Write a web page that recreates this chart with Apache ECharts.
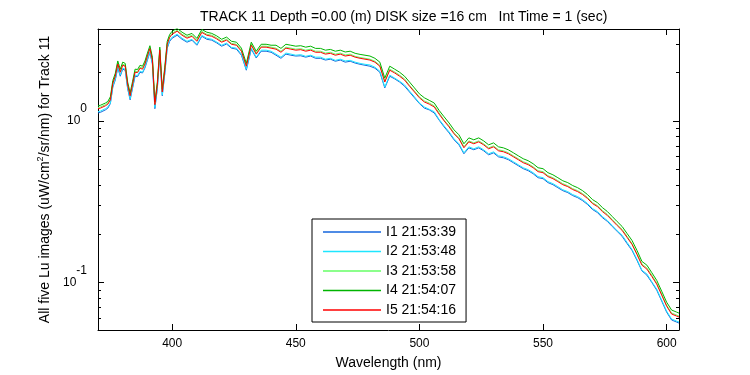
<!DOCTYPE html>
<html>
<head>
<meta charset="utf-8">
<script src="https://cdn.jsdelivr.net/npm/echarts@6/dist/echarts.min.js"></script>
<style>
html, body { margin: 0; padding: 0; background: #fff; }
#main { width: 750px; height: 375px; }
</style>
</head>
<body>
<div id="main"></div>
<script>
// wavelength (nm)
var wavelength = [370,371,372,373,374,375,376,377,378,379,380,381,382,383,384,385,386,387,388,389,390,391,392,393,394,395,396,397,398,399,400,
    402,404,406,408,410,412,414,416,418,420,422,424,426,428,430,432,434,436,438,440,
    442,444,446,448,450,452,454,456,458,460,462,464,466,468,470,472,474,476,478,480,
    482,484,486,488,490,492,494,496,498,500,502,504,506,508,510,512,514,516,518,520,
    522,524,526,528,530,532,534,536,538,540,542,544,546,548,550,552,554,556,558,560,
    562,564,566,568,570,572,574,576,578,580,582,584,586,588,590,592,594,596,598,600,
    602,604,605];

// Lu for the five images
var lu1 = [1.12,1.13,1.15,1.17,1.20,1.28,1.62,1.79,2.13,1.89,2.09,2.06,1.58,1.35,1.60,1.89,1.88,2.00,1.98,2.13,2.38,2.65,2.25,1.19,1.58,2.59,1.43,1.95,2.82,3.11,3.25,
    3.39,3.20,3.07,3.16,2.94,3.34,3.20,3.16,3.04,2.90,2.99,2.82,2.78,2.55,2.06,2.78,2.45,2.70,2.70,2.66,
    2.55,2.44,2.59,2.55,2.52,2.53,2.48,2.52,2.44,2.44,2.38,2.41,2.34,2.38,2.31,2.34,2.28,2.24,2.21,2.18,
    2.12,2.00,1.60,1.89,1.82,1.74,1.64,1.51,1.39,1.28,1.20,1.17,1.12,1.01,0.918,0.843,0.764,0.711,0.626,0.681,
    0.663,0.681,0.653,0.617,0.634,0.599,0.591,0.575,0.551,0.528,0.506,0.492,0.471,0.445,0.439,0.415,0.403,0.386,0.370,0.360,
    0.345,0.335,0.321,0.304,0.283,0.271,0.252,0.239,0.222,0.207,0.193,0.174,0.158,0.137,0.118,0.111,0.100,0.0896,0.0767,0.0655,
    0.0586,0.0569,0.0561];
var lu2 = [1.14,1.15,1.17,1.19,1.22,1.29,1.64,1.81,2.16,1.92,2.12,2.09,1.60,1.37,1.62,1.92,1.91,2.03,2.00,2.16,2.41,2.68,2.28,1.21,1.60,2.62,1.45,1.97,2.85,3.15,3.30,
    3.44,3.25,3.11,3.20,2.98,3.38,3.25,3.20,3.08,2.94,3.03,2.85,2.82,2.59,2.09,2.82,2.48,2.74,2.74,2.70,
    2.59,2.48,2.63,2.59,2.55,2.57,2.51,2.55,2.48,2.48,2.41,2.44,2.37,2.41,2.35,2.37,2.31,2.27,2.24,2.22,
    2.15,2.03,1.62,1.92,1.84,1.76,1.67,1.53,1.41,1.29,1.22,1.18,1.14,1.02,0.931,0.855,0.775,0.722,0.635,0.691,
    0.672,0.691,0.662,0.626,0.643,0.608,0.600,0.583,0.559,0.535,0.513,0.499,0.478,0.452,0.445,0.421,0.409,0.392,0.375,0.365,
    0.350,0.340,0.326,0.308,0.287,0.275,0.256,0.242,0.225,0.209,0.196,0.177,0.160,0.139,0.119,0.113,0.101,0.0909,0.0777,0.0665,
    0.0594,0.0577,0.0569];
var lu3 = [1.21,1.22,1.24,1.26,1.29,1.37,1.73,1.92,2.28,2.03,2.24,2.21,1.69,1.45,1.71,2.03,2.02,2.15,2.12,2.28,2.56,2.84,2.41,1.28,1.69,2.78,1.53,2.09,3.02,3.34,3.49,
    3.64,3.44,3.30,3.39,3.15,3.58,3.44,3.39,3.27,3.11,3.20,3.02,2.98,2.74,2.21,2.98,2.63,2.90,2.90,2.86,
    2.82,2.70,2.86,2.82,2.78,2.80,2.74,2.78,2.70,2.70,2.63,2.66,2.59,2.63,2.56,2.59,2.51,2.47,2.44,2.41,
    2.34,2.21,1.76,2.09,2.01,1.92,1.82,1.66,1.53,1.41,1.33,1.29,1.24,1.12,1.01,0.931,0.844,0.786,0.692,0.752,
    0.732,0.752,0.721,0.681,0.701,0.662,0.653,0.635,0.608,0.583,0.559,0.544,0.520,0.492,0.485,0.458,0.445,0.427,0.409,0.397,
    0.381,0.370,0.355,0.336,0.312,0.299,0.279,0.264,0.245,0.228,0.213,0.193,0.174,0.151,0.130,0.123,0.111,0.0990,0.0847,0.0724,
    0.0647,0.0629,0.0620];
var lu4 = [1.24,1.25,1.27,1.29,1.32,1.41,1.78,1.97,2.35,2.09,2.31,2.27,1.74,1.49,1.76,2.09,2.08,2.21,2.18,2.35,2.63,2.92,2.48,1.31,1.74,2.86,1.57,2.15,3.11,3.43,3.59,
    3.74,3.54,3.39,3.48,3.24,3.68,3.54,3.48,3.36,3.20,3.30,3.11,3.07,2.82,2.27,3.07,2.70,2.98,2.98,2.94,
    2.94,2.81,2.98,2.94,2.90,2.92,2.86,2.90,2.81,2.81,2.74,2.77,2.70,2.74,2.67,2.70,2.62,2.58,2.55,2.52,
    2.44,2.31,1.84,2.18,2.09,2.00,1.89,1.74,1.60,1.47,1.39,1.34,1.29,1.16,1.06,0.971,0.880,0.820,0.722,0.785,
    0.764,0.785,0.752,0.711,0.731,0.691,0.681,0.662,0.635,0.608,0.583,0.567,0.543,0.513,0.506,0.478,0.464,0.445,0.426,0.415,
    0.398,0.386,0.370,0.350,0.326,0.312,0.291,0.275,0.256,0.238,0.222,0.201,0.182,0.158,0.135,0.128,0.115,0.103,0.0883,0.0755,
    0.0675,0.0656,0.0646];
var lu5 = [1.19,1.20,1.22,1.24,1.27,1.35,1.71,1.89,2.25,2.00,2.21,2.18,1.67,1.43,1.69,2.00,1.99,2.12,2.09,2.25,2.52,2.80,2.38,1.26,1.67,2.74,1.51,2.06,2.98,3.29,3.44,
    3.59,3.39,3.25,3.34,3.11,3.53,3.39,3.34,3.22,3.07,3.16,2.98,2.94,2.70,2.18,2.94,2.59,2.86,2.86,2.82,
    2.78,2.66,2.82,2.78,2.74,2.76,2.70,2.74,2.66,2.66,2.59,2.62,2.55,2.59,2.52,2.55,2.48,2.44,2.41,2.38,
    2.31,2.18,1.74,2.06,1.98,1.89,1.79,1.64,1.51,1.39,1.31,1.27,1.22,1.10,1.00,0.918,0.832,0.775,0.682,0.742,
    0.722,0.742,0.711,0.672,0.691,0.653,0.644,0.626,0.600,0.575,0.551,0.536,0.513,0.485,0.478,0.452,0.439,0.421,0.403,0.392,
    0.376,0.365,0.350,0.331,0.308,0.295,0.275,0.260,0.242,0.225,0.210,0.190,0.172,0.149,0.128,0.121,0.109,0.0976,0.0835,0.0714,
    0.0638,0.0620,0.0611];

var names = ['I1 21:53:39', 'I2 21:53:48', 'I3 21:53:58', 'I4 21:54:07', 'I5 21:54:16'];
var colors = ['#1565dc', '#1ee6ff', '#66ff66', '#00b400', '#ff0000'];
var xTicks = [400, 450, 500, 550, 600];
var yTicks = [0.1, 1];
var yMinorTicks = [0.06, 0.07, 0.08, 0.09, 0.2, 0.3, 0.4, 0.5, 0.6, 0.7, 0.8, 0.9, 2, 3];

var FONT = '"Liberation Sans", Arial, sans-serif';
var yMin = 0.0508, yMax = 3.705;

var chart = echarts.init(document.getElementById('main'), null, { renderer: 'canvas' });

var allLu = [lu1, lu2, lu3, lu4, lu5];
var series = allLu.map(function (arr, k) {
    return {
        name: names[k],
        type: 'line',
        symbol: 'none',
        xAxisIndex: 0,
        yAxisIndex: 0,
        lineStyle: { width: 1, color: colors[k] },
        itemStyle: { color: colors[k] },
        data: wavelength.map(function (w, i) { return [w, arr[i]]; })
    };
});

// box axes: bottom/top, left/right, plus extra log axes that only carry minor ticks
function logAxis(pos, main) {
    return {
        type: 'log',
        position: pos,
        min: yMin,
        max: yMax,
        axisLine: { show: main, lineStyle: { color: '#000', width: 1 } },
        axisTick: {
            show: true, inside: true, length: main ? 6 : 3,
            customValues: main ? yTicks : yMinorTicks,
            lineStyle: { color: '#000' }
        },
        axisLabel: { show: false },
        splitLine: { show: false }
    };
}

var yLeft = logAxis('left', true);
yLeft.axisLabel = {
    show: true,
    customValues: yTicks,
    margin: 11,
    fontFamily: FONT,
    formatter: function (v) {
        return '{b|10}{s|' + Math.round(Math.log10(v)) + '}';
    },
    rich: {
        b: { fontSize: 12, fontFamily: FONT, color: '#000' },
        s: { fontSize: 12, fontFamily: FONT, color: '#000', padding: [0, 0, 24, 0] }
    }
};
yLeft.name = '{n|All five Lu images (uW/cm}{p|2}{n|/sr/nm) for Track 11}';
yLeft.nameLocation = 'middle';
yLeft.nameGap = 36;
yLeft.nameTextStyle = {
    rich: {
        n: { fontSize: 14, fontFamily: FONT, color: '#000' },
        p: { fontSize: 9, fontFamily: FONT, color: '#000', padding: [0, 0, 9, 0] }
    }
};

var option = {
    animation: false,
    backgroundColor: '#fff',
    title: {
        text: 'TRACK 11 Depth =0.00 (m) DISK size =16 cm   Int Time = 1 (sec)',
        left: 195,
        top: 5,
        textStyle: { fontSize: 14, fontWeight: 'normal', fontFamily: FONT, color: '#000' }
    },
    grid: { left: 98, right: 71, top: 29, bottom: 44 },
    legend: {
        data: names,
        orient: 'vertical',
        left: 312,
        top: 219,
        padding: [6, 10, 5, 11],
        icon: 'rect',
        itemWidth: 58,
        itemHeight: 1.5,
        itemGap: 5.5,
        itemTextGap: 6,
        backgroundColor: '#fff',
        borderColor: '#000',
        borderWidth: 1,
        borderRadius: 0,
        textStyle: { fontSize: 14, lineHeight: 14, fontFamily: FONT, color: '#000' }
    },
    xAxis: [
        {
            type: 'value',
            position: 'bottom',
            min: 370,
            max: 605,
            name: 'Wavelength (nm)',
            nameLocation: 'middle',
            nameGap: 26,
            nameTextStyle: { fontSize: 14, fontFamily: FONT, color: '#000' },
            axisLine: { lineStyle: { color: '#000', width: 1 } },
            axisTick: { inside: true, length: 6, customValues: xTicks, lineStyle: { color: '#000' } },
            axisLabel: { customValues: xTicks, margin: 8, fontSize: 12, fontFamily: FONT, color: '#000' },
            splitLine: { show: false }
        },
        {
            type: 'value',
            position: 'top',
            min: 370,
            max: 605,
            axisLine: { lineStyle: { color: '#000', width: 1 } },
            axisTick: { inside: true, length: 6, customValues: xTicks, lineStyle: { color: '#000' } },
            axisLabel: { show: false },
            splitLine: { show: false }
        }
    ],
    yAxis: [yLeft, logAxis('right', true), logAxis('left', false), logAxis('right', false)],
    series: series
};

chart.setOption(option);
</script>
</body>
</html>
